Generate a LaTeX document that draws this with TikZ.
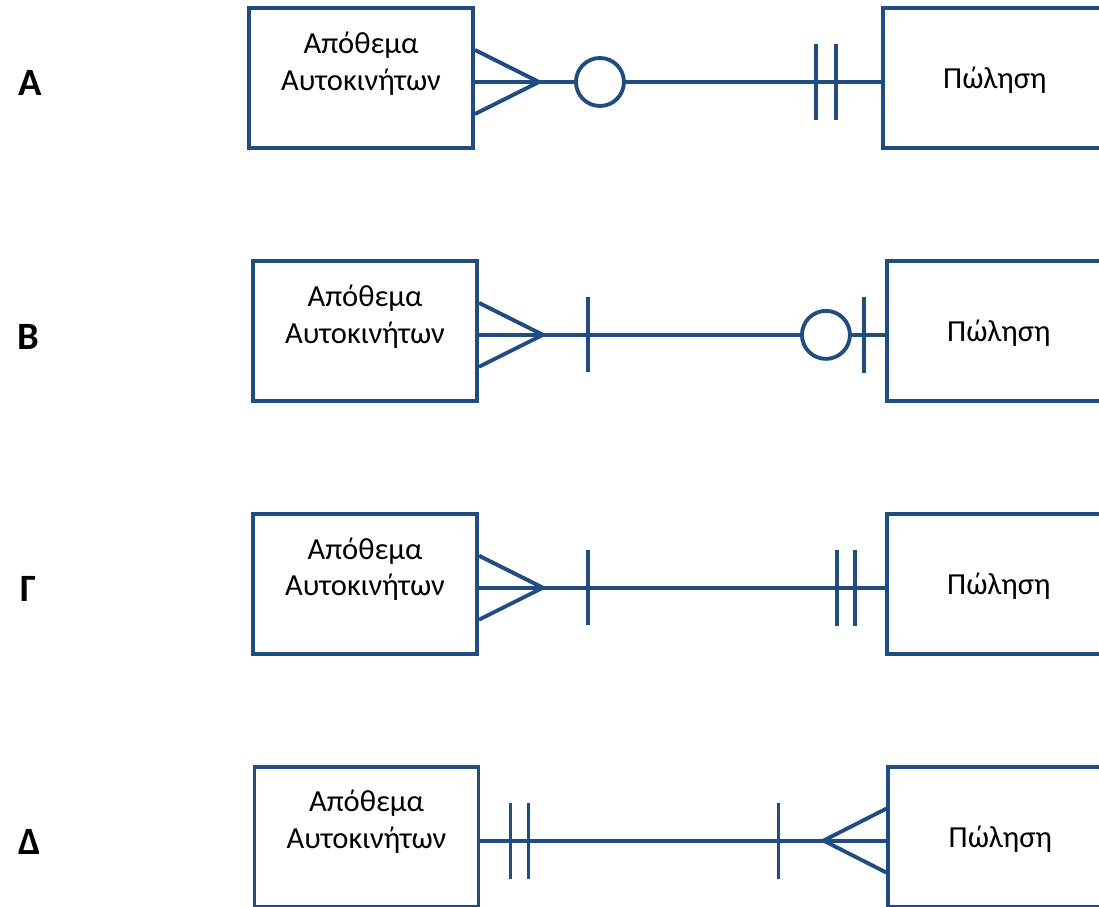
\documentclass[tikz,border=0pt]{standalone}
\usepackage{fontspec}
\setmainfont{Carlito}
\usetikzlibrary{positioning,calc,backgrounds}
\definecolor{erblue}{RGB}{33,76,130}

\begin{document}
\begin{tikzpicture}[node distance=2.18cm and 8.12cm,
			entity/.style={draw=erblue, rectangle, line width=2.2pt, minimum width=4.48cm, minimum height=2.8cm, inner sep=0pt},
			stockText/.style={align=center, yshift=0.29cm, font=\fontsize{17.4}{21}\selectfont},
			saleText/.style={yshift=-0.05cm, font=\fontsize{17.4}{21}\selectfont},
			rowlabel/.style={draw=none, font=\fontsize{22}{26}\selectfont\bfseries},
			ring/.style={draw=erblue, circle, line width=2.2pt, minimum size=0.96cm, inner sep=0pt, fill=white},
			erLine/.style={line width=2.2pt, -, color=erblue}
			]
			\clip (0,0) rectangle (21.98,-18.14);
			
			\node[entity, label={[stockText]center:{Απόθεμα\\Αυτοκινήτων}}](sA) at (7.22,-1.56) {};
			\node[entity, label={[saleText]center:Πώληση}](pA) [right = of sA] {};
			\node[entity, xshift=0.08cm, label={[stockText]center:{Απόθεμα\\Αυτοκινήτων}}](sB) [below = of sA] {};
			\node[entity, label={[saleText]center:Πώληση}](pB) [right = of sB] {};
			\node[entity, label={[stockText]center:{Απόθεμα\\Αυτοκινήτων}}](sG) [below = of sB] {};
			\node[entity, label={[saleText]center:Πώληση}](pG) [right = of sG] {};
			\node[entity, xshift=0.03cm, label={[stockText]center:{Απόθεμα\\Αυτοκινήτων}}](sD) [below = of sG] {};
			\node[entity, label={[saleText]center:Πώληση}](pD) [right = of sD] {};
			
			\node[rowlabel](lA) at (0.6,-1.66) {Α};
			\node[rowlabel](lB) at (0.56,-6.74) {Β};
			\node[rowlabel](lG) at (0.56,-11.78) {Γ};
			\node[rowlabel](lD) at (0.6,-16.84) {Δ};
			
			\node[ring](cA) at ($(sA.east)+(2.5,-0.08)$) {};
			\node[ring](cB) at ($(pB.west)+(-1.18,-0.08)$) {};
			
			\begin{pgfonlayer}{background}
			
			% A
			\draw [erLine] ([yshift=-0.08cm]sA.east) to ([yshift=-0.08cm]pA.west);
			\draw [erLine] ($(sA.east)+(0,0.56)$) -- ($(sA.east)+(1.28,-0.08)$) -- ($(sA.east)+(0,-0.72)$);
			\draw [erLine] ($(pA.west)+(-1.3,0.68)$) -- ($(pA.west)+(-1.3,-0.84)$);
			\draw [erLine] ($(pA.west)+(-0.9,0.68)$) -- ($(pA.west)+(-0.9,-0.84)$);
			
			% B
			\draw [erLine] ([yshift=-0.08cm]sB.east) to ([yshift=-0.08cm]pB.west);
			\draw [erLine] ($(sB.east)+(0,0.56)$) -- ($(sB.east)+(1.28,-0.08)$) -- ($(sB.east)+(0,-0.72)$);
			\draw [erLine] ($(sB.east)+(2.18,0.67)$) -- ($(sB.east)+(2.18,-0.83)$);
			\draw [erLine] ($(pB.west)+(-0.42,0.68)$) -- ($(pB.west)+(-0.42,-0.84)$);
			
			% G
			\draw [erLine] ([yshift=-0.08cm]sG.east) to ([yshift=-0.08cm]pG.west);
			\draw [erLine] ($(sG.east)+(0,0.56)$) -- ($(sG.east)+(1.28,-0.08)$) -- ($(sG.east)+(0,-0.72)$);
			\draw [erLine] ($(sG.east)+(2.18,0.67)$) -- ($(sG.east)+(2.18,-0.83)$);
			\draw [erLine] ($(pG.west)+(-0.96,0.68)$) -- ($(pG.west)+(-0.96,-0.84)$);
			\draw [erLine] ($(pG.west)+(-0.6,0.68)$) -- ($(pG.west)+(-0.6,-0.84)$);
			
			% D
			\draw [erLine] ([yshift=-0.08cm]sD.east) to ([yshift=-0.08cm]pD.west);
			\draw [erLine] ($(sD.east)+(0.6,0.68)$) -- ($(sD.east)+(0.6,-0.84)$);
			\draw [erLine] ($(sD.east)+(0.96,0.68)$) -- ($(sD.east)+(0.96,-0.84)$);
			\draw [erLine] ($(pD.west)+(-2.16,0.68)$) -- ($(pD.west)+(-2.16,-0.84)$);
			\draw [erLine] ($(pD.west)+(0,0.56)$) -- ($(pD.west)+(-1.26,-0.08)$) -- ($(pD.west)+(0,-0.72)$);
			
			\end{pgfonlayer}
			
\end{tikzpicture}
\end{document}
